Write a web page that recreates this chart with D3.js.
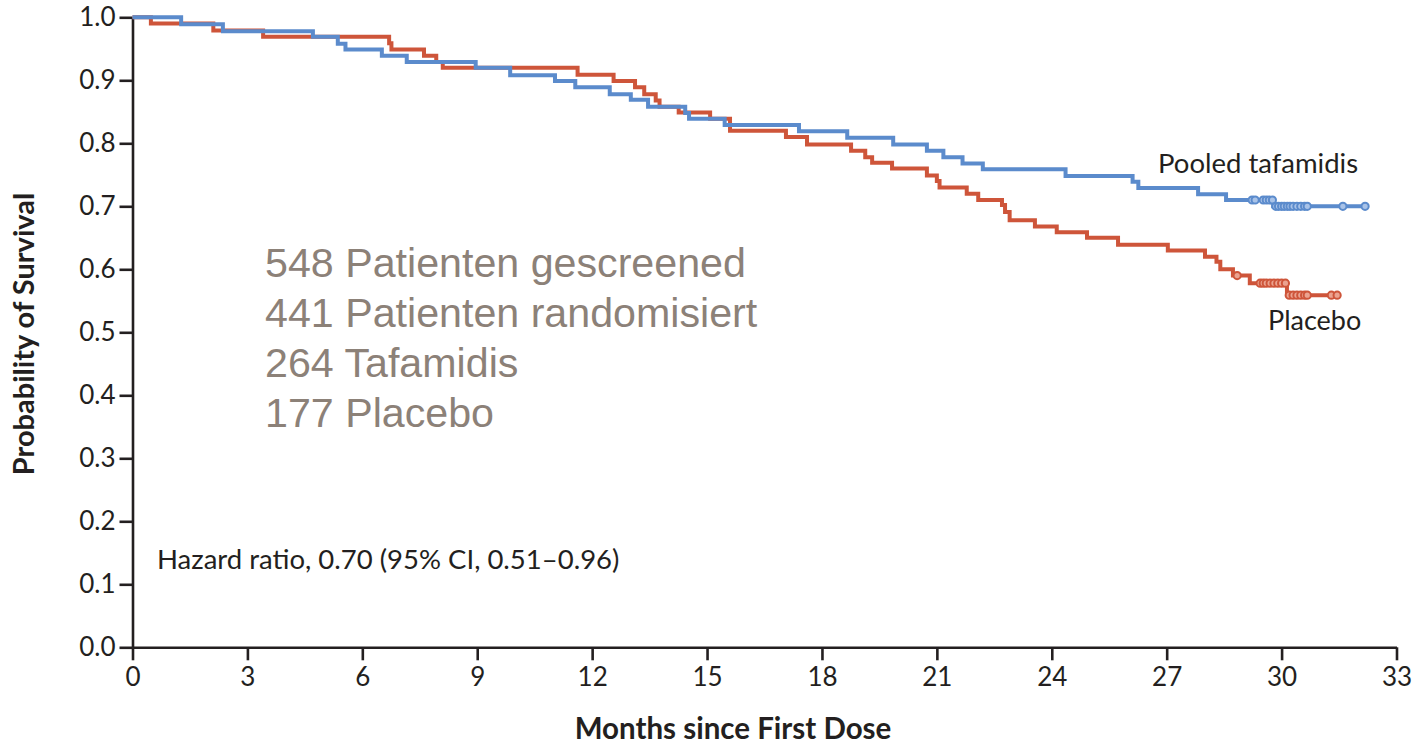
<!DOCTYPE html>
<html>
<head>
<meta charset="utf-8">
<script src="https://cdn.jsdelivr.net/npm/d3@7"></script>
<style>
  html, body { margin: 0; padding: 0; background: #ffffff; }
  svg { display: block; }
</style>
</head>
<body>
<svg id="chart" width="1414" height="744"></svg>
<script>
// Kaplan–Meier survival estimates: step times (months) and survival after each step
const tafamidisTimes = [0, 1.27, 2.36, 4.71, 5.36, 5.56, 6.51, 7.16, 8.96, 9.86, 11.03, 11.56, 12.46, 13.01, 13.46, 14.43, 14.53, 15.46, 17.4, 18.66, 19.86, 20.74, 21.17, 21.67, 22.2, 24.36, 26.11, 26.26, 27.82, 28.55, 29.78];
const tafamidisSurv  = [1.0, 0.989, 0.978, 0.969, 0.958, 0.949, 0.939, 0.929, 0.920, 0.908, 0.899, 0.889, 0.878, 0.869, 0.858, 0.848, 0.839, 0.829, 0.819, 0.809, 0.798, 0.788, 0.778, 0.768, 0.759, 0.748, 0.739, 0.729, 0.719, 0.710, 0.700];
const tafamidisEnd = 32.18;
const tafamidisCensor = [29.23, 29.31, 29.52, 29.6, 29.68, 29.76, 29.85, 29.92, 30.0, 30.07, 30.15, 30.22, 30.3, 30.4, 30.5, 30.6, 30.67, 31.6, 32.18];

const placeboTimes = [0, 0.48, 2.11, 3.41, 6.7, 6.76, 7.61, 7.93, 8.1, 11.62, 12.56, 13.12, 13.36, 13.66, 13.76, 14.26, 15.08, 15.6, 17.06, 17.61, 18.76, 19.13, 19.31, 19.83, 20.74, 21.0, 21.07, 21.78, 22.08, 22.7, 22.78, 22.9, 23.56, 24.13, 24.92, 25.73, 27.03, 28.0, 28.3, 28.4, 28.73, 29.17, 30.14];
const placeboSurv  = [1.0, 0.990, 0.979, 0.969, 0.959, 0.949, 0.939, 0.929, 0.920, 0.909, 0.899, 0.889, 0.878, 0.868, 0.858, 0.849, 0.839, 0.820, 0.810, 0.798, 0.788, 0.778, 0.769, 0.760, 0.749, 0.740, 0.730, 0.720, 0.710, 0.702, 0.691, 0.678, 0.668, 0.659, 0.650, 0.639, 0.630, 0.620, 0.612, 0.600, 0.590, 0.578, 0.559];
const placeboEnd = 31.45;
const placeboCensor = [28.84, 29.44, 29.52, 29.6, 29.7, 29.8, 29.9, 30.0, 30.1, 30.2, 30.3, 30.4, 30.5, 30.6, 30.67, 31.3, 31.45];

const xTicks = [0, 3, 6, 9, 12, 15, 18, 21, 24, 27, 30, 33];
const yTicks = [0, 0.1, 0.2, 0.3, 0.4, 0.5, 0.6, 0.7, 0.8, 0.9, 1.0];

const seriesLabels = ["Pooled tafamidis", "Placebo"];
const hazardText = "Hazard ratio, 0.70 (95% CI, 0.51–0.96)";
const studyLines = ["548 Patienten gescreened", "441 Patienten randomisiert", "264 Tafamidis", "177 Placebo"];
const xTitle = "Months since First Dose";
const yTitle = "Probability of Survival";

const BLUE = "#5b8bcc", BLUE_FILL = "#a9c3e8";
const RED = "#ce553a", RED_FILL = "#eba390";
const AXIS = "#231f20";

const svg = d3.select("#chart");
svg.append("rect").attr("width", 1414).attr("height", 744).attr("fill", "#fff");

const x = d3.scaleLinear().domain([0, 33]).range([132.5, 1396.5]);
const y = d3.scaleLinear().domain([0, 1]).range([647.3, 17.3]);

const font = "Lato, 'Open Sans', sans-serif";

// axes
const gx = svg.append("g").attr("transform", `translate(0,${y(0)})`)
  .call(d3.axisBottom(x).tickValues(xTicks).tickFormat(d3.format("d")).tickSize(13).tickSizeOuter(0).tickPadding(7));
const gy = svg.append("g").attr("transform", `translate(${x(0)},0)`)
  .call(d3.axisLeft(y).tickValues(yTicks).tickFormat(d3.format(".1f")).tickSize(13).tickSizeOuter(0).tickPadding(4));
[gx, gy].forEach(g => {
  g.selectAll("path.domain").attr("stroke", AXIS).attr("stroke-width", 2.6);
  g.selectAll(".tick line").attr("stroke", AXIS).attr("stroke-width", 2.6);
  g.selectAll(".tick text").attr("fill", "#231f20").style("font-family", font).style("font-size", "26px");
});

// survival curves
const line = d3.line().x(d => x(d[0])).y(d => y(d[1])).curve(d3.curveStepAfter);
function curvePoints(times, surv, end) {
  const pts = times.map((t, i) => [t, surv[i]]);
  pts.push([end, surv[surv.length - 1]]);
  return pts;
}
function survAt(times, surv, t) {
  let s = surv[0];
  for (let i = 0; i < times.length; i++) if (times[i] <= t) s = surv[i];
  return s;
}

const series = [
  { times: placeboTimes, surv: placeboSurv, end: placeboEnd, censor: placeboCensor, color: RED, fill: RED_FILL },
  { times: tafamidisTimes, surv: tafamidisSurv, end: tafamidisEnd, censor: tafamidisCensor, color: BLUE, fill: BLUE_FILL }
];

series.forEach(s => {
  svg.append("path")
    .datum(curvePoints(s.times, s.surv, s.end))
    .attr("d", line)
    .attr("fill", "none")
    .attr("stroke", s.color)
    .attr("stroke-width", 4)
    .attr("stroke-linejoin", "miter")
    .attr("stroke-linecap", "butt");
  svg.append("g").selectAll("circle")
    .data(s.censor)
    .join("circle")
    .attr("cx", d => x(d))
    .attr("cy", d => y(survAt(s.times, s.surv, d)))
    .attr("r", 3.6)
    .attr("fill", s.fill)
    .attr("stroke", s.color)
    .attr("stroke-width", 2);
});

// series labels
svg.append("text").attr("x", 1158).attr("y", 173)
  .style("font-family", font).style("font-size", "27.5px").attr("fill", "#231f20")
  .text(seriesLabels[0]);
svg.append("text").attr("x", 1268).attr("y", 330)
  .style("font-family", font).style("font-size", "27px").attr("fill", "#231f20")
  .text(seriesLabels[1]);

// hazard ratio note
svg.append("text").attr("x", 157).attr("y", 569)
  .style("font-family", font).style("font-size", "27.5px").attr("fill", "#231f20")
  .text(hazardText);

// study enrolment summary
svg.append("g").selectAll("text")
  .data(studyLines)
  .join("text")
  .attr("x", 265)
  .attr("y", (d, i) => 277 + i * 50)
  .style("font-family", "'Liberation Sans', Arial, sans-serif")
  .style("font-size", "41.2px")
  .attr("fill", "#8c8178")
  .text(d => d);

// axis titles
svg.append("text").attr("x", 733).attr("y", 739).attr("text-anchor", "middle")
  .style("font-family", font).style("font-size", "29.5px").style("font-weight", "700").attr("fill", "#231f20")
  .text(xTitle);
svg.append("text").attr("transform", "translate(34,334) rotate(-90)").attr("text-anchor", "middle")
  .style("font-family", font).style("font-size", "29px").style("font-weight", "700").attr("fill", "#231f20")
  .text(yTitle);
</script>
</body>
</html>
